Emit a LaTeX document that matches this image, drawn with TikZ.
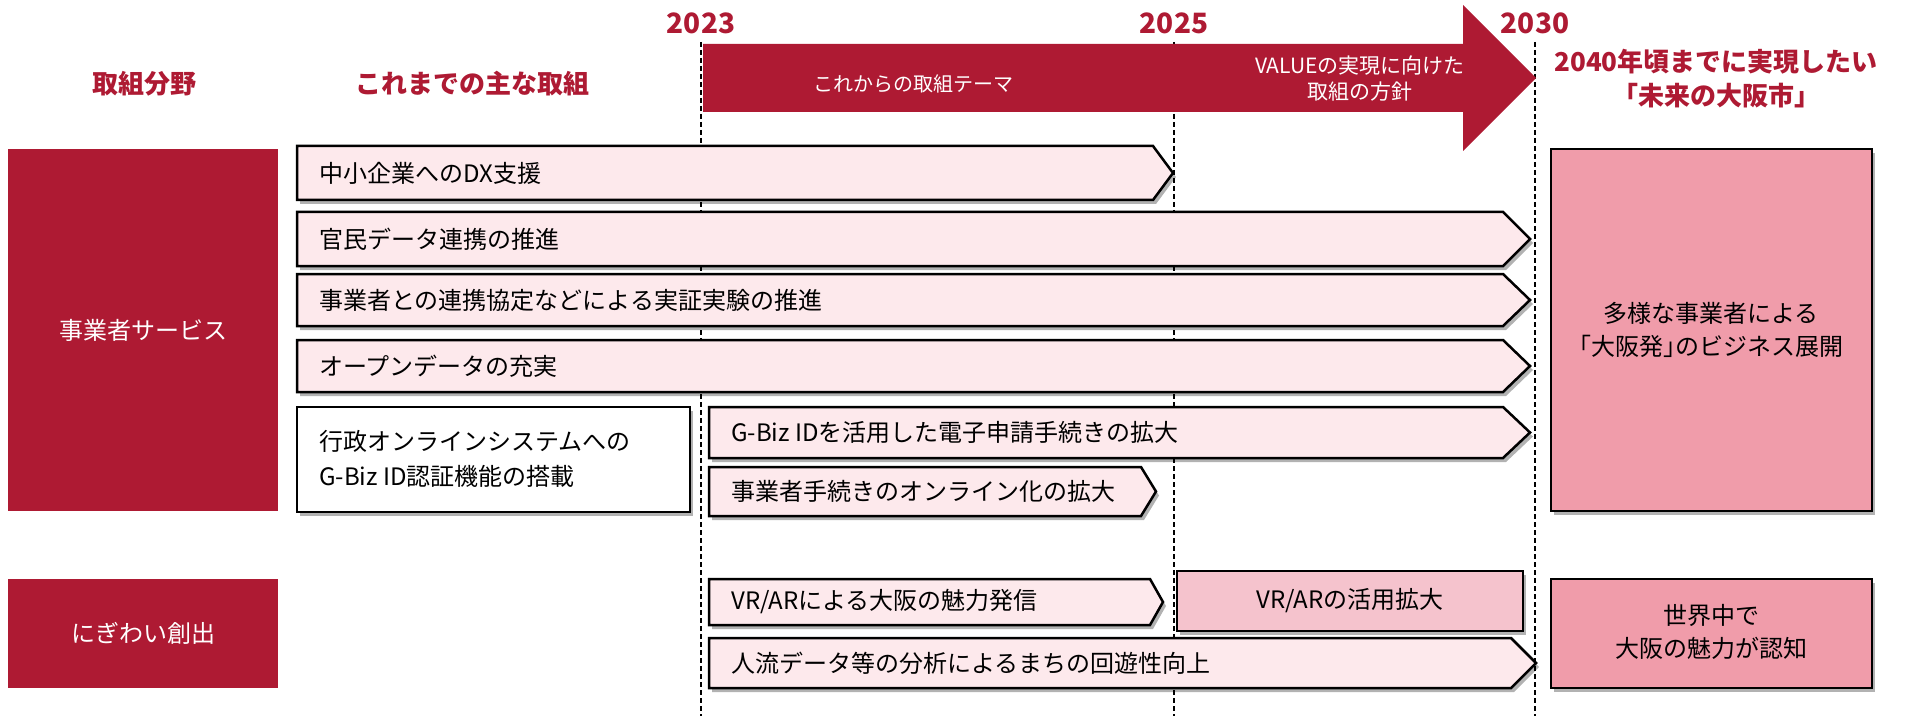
\documentclass[tikz,border=0pt]{standalone}
\usepackage{fontspec}
\setmainfont{Noto Sans CJK JP}
\usetikzlibrary{shadows}
\definecolor{oared}{RGB}{174,26,51}
\definecolor{lpink}{RGB}{253,233,236}
\definecolor{mpink}{RGB}{245,195,205}
\definecolor{dpink}{RGB}{240,156,170}
\newcommand\halfw[1]{{\addfontfeature{RawFeature=+halt}#1}}
\tikzset{
 boxline/.style={draw=black, line width=2.5pt, line join=miter},
 shade3/.style={drop shadow={shadow xshift=3pt, shadow yshift=-4pt, fill=black, opacity=0.3}},
 chev/.style={boxline, fill=lpink, shade3},
 txt/.style={font=\fontsize{24}{35}\selectfont, inner sep=0pt, anchor=west},
 hdr/.style={font=\bfseries\fontsize{26}{34}\selectfont, text=oared, align=center},
 yearlbl/.style={font=\bfseries\fontsize{28}{32}\selectfont, text=oared},
 cat/.style={fill=oared, text=white, font=\fontsize{24}{30}\selectfont, inner sep=0pt},
 guide/.style={black, line width=1.2pt, dash pattern=on 5pt off 3pt},
 goal/.style={boxline, fill=dpink, shade3},
 goaltxt/.style={font=\fontsize{24}{33}\selectfont, align=center},
 arrtxt/.style={font=\fontsize{20}{26}\selectfont, text=white, align=center},
}
\newcommand\chevbox[7]{%
  \draw[chev] (#2,#3) -- ({#4-#6},#3) -- (#4,{(#3+#5)/2}) -- ({#4-#6},#5) -- (#2,#5) -- cycle;
  \node[txt] (#1) at ({#2+22},{(#3+#5)/2}) {#7};}

\begin{document}
\begin{tikzpicture}[x=1pt,y=-1pt]
\useasboundingbox (0,0) rectangle (1908,722);

% year labels and guide lines
\node[yearlbl] (y23) at (701,23) {2023};
\node[yearlbl] (y25) at (1174,23) {2025};
\node[yearlbl] (y30) at (1535,23) {2030};
\coordinate (s23) at (701,42);
\coordinate (e23) at (701,716);
\coordinate (s25) at (1174,42);
\coordinate (e25) at (1174,716);
\coordinate (s30) at (1535,42);
\coordinate (e30) at (1535,716);
\draw[guide] (s23) -- (e23);
\draw[guide] (s25) -- (e25);
\draw[guide] (s30) -- (e30);

% big arrow
\fill[oared] (703,44) -- (1463,44) -- (1463,5) -- (1536,78) -- (1463,151) -- (1463,112) -- (703,112) -- cycle;
\node[arrtxt] (a1) at (913,84) {これからの取組テーマ};
\node[arrtxt, font=\fontsize{21}{26}\selectfont] (a2) at (1360,79) {VALUEの実現に向けた\\取組の方針};

% headers
\node[hdr] (h1) at (144,84) {取組分野};
\node[hdr] (h2) at (472,84) {これまでの主な取組};
\node[hdr] (h3) at (1716,79) {2040年頃までに実現したい\\「未来の大阪市」};

% categories
\node[cat, minimum width=270pt, minimum height=362pt] (c1) at (143,330) {事業者サービス};
\node[cat, minimum width=270pt, minimum height=109pt] (c2) at (143,633) {にぎわい創出};

% rows
\chevbox{r1}{297}{146}{1173}{200}{20}{中小企業へのDX支援}
\chevbox{r2}{297}{212}{1530}{266}{27}{官民データ連携の推進}
\chevbox{r3}{297}{274}{1530}{326}{27}{事業者との連携協定などによる実証実験の推進}
\chevbox{r4}{297}{340}{1530}{392}{27}{オープンデータの充実}
\draw[boxline, fill=white, shade3] (297,407) rectangle (690,512);
\node[txt, align=left] (r5) at (319,459) {行政オンラインシステムへの\\G-Biz ID認証機能の搭載};
\chevbox{r6}{709}{407}{1530}{458}{27}{G-Biz IDを活用した電子申請手続きの拡大}
\chevbox{r7}{709}{467}{1156}{516}{15}{事業者手続きのオンライン化の拡大}
\chevbox{r8}{709}{579}{1163}{625}{13}{VR/ARによる大阪の魅力発信}
\draw[boxline, fill=mpink, shade3] (1177,571) rectangle (1523,631);
\node[goaltxt] (r10) at (1350,601) {VR/ARの活用拡大};
\chevbox{r9}{709}{638}{1536}{688}{25}{人流データ等の分析によるまちの回遊性向上}

% goals
\draw[goal] (1551,149) rectangle (1872,511);
\node[goaltxt] (g1) at (1711,330) {多様な事業者による\\\halfw{「}大阪発\halfw{」}のビジネス展開};
\draw[goal] (1551,579) rectangle (1872,688);
\node[goaltxt] (g2) at (1711,632) {世界中で\\大阪の魅力が認知};
\end{tikzpicture}
\end{document}
